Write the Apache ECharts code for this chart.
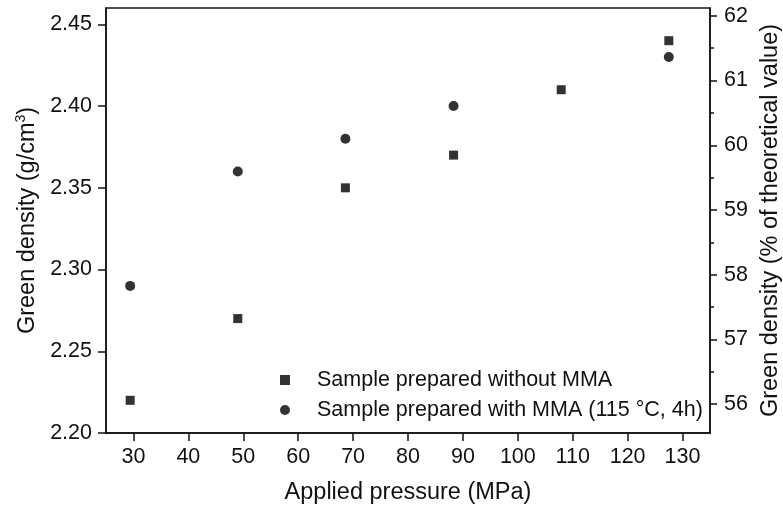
<!DOCTYPE html>
<html>
<head>
<meta charset="utf-8">
<script src="https://cdn.jsdelivr.net/npm/echarts@6/dist/echarts.min.js"></script>
<style>html,body{margin:0;padding:0;background:#fff;}#c{width:783px;height:506px;}</style>
</head>
<body>
<div id="c"></div>
<script>
// Data
const seriesNames = ['Sample prepared without MMA', 'Sample prepared with MMA (115 \u00B0C, 4h)'];
const pressureA = [29.4, 49.0, 68.6, 88.3, 107.9, 127.5];
const densityA  = [2.22, 2.27, 2.35, 2.37, 2.41, 2.44];
const pressureB = [29.4, 49.0, 68.6, 88.3, 127.5];
const densityB  = [2.29, 2.36, 2.38, 2.40, 2.43];
const xTicks = [30, 40, 50, 60, 70, 80, 90, 100, 110, 120, 130];
const leftTicks = [2.20, 2.25, 2.30, 2.35, 2.40, 2.45];
const rightTicks = [56, 57, 58, 59, 60, 61, 62];
const rightMinorTicks = [56.5, 57.5, 58.5, 59.5, 60.5, 61.5];
const theoreticalDensity = 3.96;
const yMin = 2.20, yMax = 2.46, xMin = 25, xMax = 135;

const font = 'Liberation Sans, Arial, sans-serif';
const ink = '#111';
const pairs = (xs, ys) => xs.map((x, i) => [x, ys[i]]);

const chart = echarts.init(document.getElementById('c'));
const axisLine = { show: true, lineStyle: { color: ink, width: 1.5 } };
chart.setOption({
  animation: false,
  backgroundColor: '#fff',
  grid: { left: 106, top: 8, right: 73, bottom: 73, containLabel: false, outerBoundsMode: 'none', show: true, borderColor: ink, borderWidth: 1.5, backgroundColor: 'transparent' },
  legend: {
    orient: 'vertical', left: 275, top: 364,
    itemWidth: 10, itemHeight: 10, itemGap: 8,
    data: seriesNames,
    textStyle: { fontFamily: font, fontSize: 21.5, color: ink, lineHeight: 20, padding: [0, 0, 0, 22] }
  },
  xAxis: {
    type: 'value', min: xMin, max: xMax,
    name: 'Applied pressure (MPa)', nameLocation: 'middle', nameGap: 48,
    nameTextStyle: { fontFamily: font, fontSize: 23.5, color: ink },
    axisLine: axisLine,
    axisTick: { show: true, length: 8, customValues: xTicks, lineStyle: { color: ink, width: 1.5 } },
    axisLabel: { customValues: xTicks, fontFamily: font, fontSize: 21.5, color: ink, margin: 13 },
    splitLine: { show: false }
  },
  yAxis: [
    {
      type: 'value', position: 'left', min: yMin, max: yMax,
      name: 'Green density (g/cm{sup|3})', nameLocation: 'middle', nameGap: 50, nameRotate: 90,
      nameTextStyle: { fontFamily: font, fontSize: 23.5, color: ink, rich: { sup: { fontFamily: font, fontSize: 14, color: ink, verticalAlign: 'top', padding: [0, 0, 12, 0] } } },
      axisLine: axisLine,
      axisTick: { show: true, length: 8, customValues: leftTicks, lineStyle: { color: ink, width: 1.5 } },
      axisLabel: { customValues: leftTicks, formatter: v => v.toFixed(2), fontFamily: font, fontSize: 21.5, color: ink, margin: 14 },
      splitLine: { show: false }
    },
    {
      type: 'value', position: 'right', min: yMin / theoreticalDensity * 100, max: yMax / theoreticalDensity * 100,
      name: 'Green density (% of theoretical value)', nameLocation: 'middle', nameGap: 49, nameRotate: 90,
      nameTextStyle: { fontFamily: font, fontSize: 23.5, color: ink },
      axisLine: axisLine,
      axisTick: { show: true, length: 7, customValues: rightTicks, lineStyle: { color: ink, width: 1.5 } },
      axisLabel: { customValues: rightTicks, fontFamily: font, fontSize: 21.5, color: ink, margin: 14 },
      splitLine: { show: false }
    },
    {
      type: 'value', position: 'right', min: yMin / theoreticalDensity * 100, max: yMax / theoreticalDensity * 100,
      axisLine: { show: false },
      axisTick: { show: true, length: 4, customValues: rightMinorTicks, lineStyle: { color: ink, width: 1.5 } },
      axisLabel: { show: false },
      splitLine: { show: false }
    }
  ],
  series: [
    { name: seriesNames[0], type: 'scatter', symbol: 'rect', symbolSize: 9, itemStyle: { color: '#000' }, data: pairs(pressureA, densityA) },
    { name: seriesNames[1], type: 'scatter', symbol: 'circle', symbolSize: 10, itemStyle: { color: '#000' }, data: pairs(pressureB, densityB) }
  ]
});
</script>
</body>
</html>
